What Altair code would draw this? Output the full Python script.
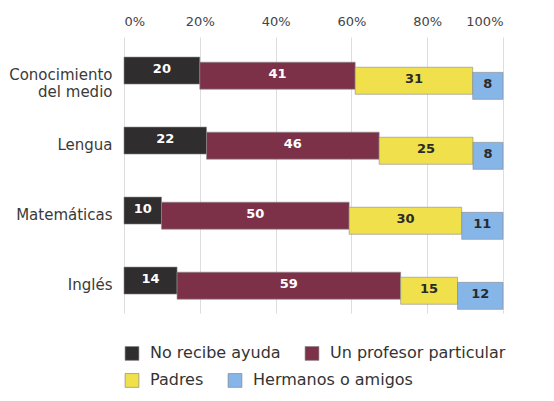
import altair as alt
import pandas as pd

categories = ["Conocimiento\ndel medio", "Lengua", "Matemáticas", "Inglés"]
series = ["No recibe ayuda", "Un profesor particular", "Padres", "Hermanos o amigos"]
no_ayuda = [20, 22, 10, 14]
profesor = [41, 46, 50, 59]
padres = [31, 25, 30, 15]
hermanos = [8, 8, 11, 12]
x_ticks = [0, 0.2, 0.4, 0.6, 0.8, 1.0]

bar_colors = ["#2f2d2d", "#7d3149", "#f0e04b", "#86b5e8"]
text_colors = ["#ffffff", "#ffffff", "#2a2a2a", "#2a2a2a"]

rows = []
for s, vals in zip(series, [no_ayuda, profesor, padres, hermanos]):
    for c, v in zip(categories, vals):
        rows.append({"cat": c, "serie": s, "order": series.index(s), "value": v})
df = pd.DataFrame(rows)

FONT = "DejaVu Sans"

base = alt.Chart(df).transform_stack(
    stack="value", groupby=["cat"], as_=["x0", "x1"], offset="normalize",
    sort=[alt.SortField("order", "ascending")]
).transform_calculate(mid="(datum.x0 + datum.x1) / 2")

y_enc = alt.Y(
    "cat:N", sort=categories, title=None,
    scale=alt.Scale(paddingInner=0.709, paddingOuter=0.326, align=0.68),
    axis=alt.Axis(labelExpr="split(datum.label, '\\n')", labelFontSize=15,
                  labelColor="#3a3a3a", labelFont=FONT, labelPadding=12,
                  domain=False, ticks=False, minExtent=114, maxExtent=114,
                  labelLineHeight=17, labelOffset=-3),
)
yoff = alt.YOffset("serie:N", sort=series,
                   scale=alt.Scale(domain=series, paddingInner=0, paddingOuter=0))
x_enc = alt.X("x0:Q", title=None,
              scale=alt.Scale(domain=[0, 1], nice=False),
              axis=alt.Axis(orient="top", format="%", values=x_ticks, labelFontSize=13,
                            labelColor="#444444", labelFont=FONT, domain=False,
                            ticks=False, grid=True, gridColor="#dddddd",
                            labelPadding=9, minExtent=29, maxExtent=29))


def legend(y):
    return alt.Legend(title=None, orient="none", legendX=0, legendY=y,
                      direction="horizontal", symbolType="square",
                      symbolSize=190, symbolStrokeColor="#777777",
                      symbolStrokeWidth=0.6, labelFontSize=16,
                      labelFont=FONT, labelColor="#333333",
                      columnPadding=22, labelOffset=10, labelLimit=300)


def bar_layer(idx, ly):
    dom = [series[i] for i in idx]
    rng = [bar_colors[i] for i in idx]
    return base.transform_filter(
        alt.FieldOneOfPredicate(field="serie", oneOf=dom)
    ).mark_bar(height=27, stroke="#8a8a8a", strokeWidth=0.6).encode(
        x=x_enc, x2="x1:Q", y=y_enc, yOffset=yoff,
        color=alt.Color("serie:N", sort=dom,
                        scale=alt.Scale(domain=dom, range=rng),
                        legend=legend(ly)),
    )


bars_a = bar_layer([0, 1], 308)
bars_b = bar_layer([2, 3], 335)

labels = base.mark_text(fontSize=13, fontWeight="bold", font=FONT, dy=-2).encode(
    x=alt.X("mid:Q"),
    y=alt.Y("cat:N", sort=categories),
    yOffset=yoff,
    text=alt.Text("value:Q"),
    color=alt.Color("serie:N", sort=series,
                    scale=alt.Scale(domain=series, range=text_colors), legend=None),
)

chart = alt.layer(bars_a, bars_b, labels).resolve_scale(color="independent").properties(
    width=379, height=276, padding=0, background="#ffffff"
).configure_view(stroke=None)

chart.save("out.html", embed_options={"renderer": "svg", "actions": False})
